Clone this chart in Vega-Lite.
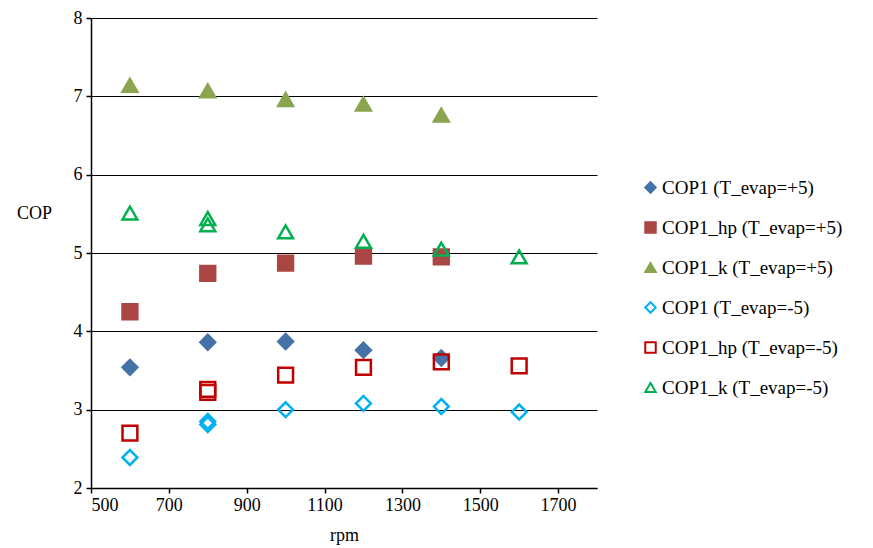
{
  "$schema": "https://vega.github.io/schema/vega-lite/v6.json",
  "width": 506,
  "height": 470,
  "autosize": {"type": "none"},
  "padding": {"left": 91, "top": 18, "right": 276, "bottom": 60},
  "background": "white",
  "config": {
    "view": {"stroke": null}
  },
  "data": {
    "values": [
      {"rpm": 600, "cop": 3.54, "series": "COP1 (T_evap=+5)"},
      {"rpm": 800, "cop": 3.86, "series": "COP1 (T_evap=+5)"},
      {"rpm": 1000, "cop": 3.87, "series": "COP1 (T_evap=+5)"},
      {"rpm": 1200, "cop": 3.76, "series": "COP1 (T_evap=+5)"},
      {"rpm": 1400, "cop": 3.66, "series": "COP1 (T_evap=+5)"},
      {"rpm": 600, "cop": 4.25, "series": "COP1_hp (T_evap=+5)"},
      {"rpm": 800, "cop": 4.74, "series": "COP1_hp (T_evap=+5)"},
      {"rpm": 1000, "cop": 4.87, "series": "COP1_hp (T_evap=+5)"},
      {"rpm": 1200, "cop": 4.96, "series": "COP1_hp (T_evap=+5)"},
      {"rpm": 1400, "cop": 4.95, "series": "COP1_hp (T_evap=+5)"},
      {"rpm": 600, "cop": 7.14, "series": "COP1_k (T_evap=+5)"},
      {"rpm": 800, "cop": 7.07, "series": "COP1_k (T_evap=+5)"},
      {"rpm": 1000, "cop": 6.96, "series": "COP1_k (T_evap=+5)"},
      {"rpm": 1200, "cop": 6.9, "series": "COP1_k (T_evap=+5)"},
      {"rpm": 1400, "cop": 6.76, "series": "COP1_k (T_evap=+5)"},
      {"rpm": 600, "cop": 2.39, "series": "COP1 (T_evap=-5)"},
      {"rpm": 800, "cop": 2.85, "series": "COP1 (T_evap=-5)"},
      {"rpm": 800, "cop": 2.81, "series": "COP1 (T_evap=-5)"},
      {"rpm": 1000, "cop": 3.0, "series": "COP1 (T_evap=-5)"},
      {"rpm": 1200, "cop": 3.08, "series": "COP1 (T_evap=-5)"},
      {"rpm": 1400, "cop": 3.04, "series": "COP1 (T_evap=-5)"},
      {"rpm": 1600, "cop": 2.97, "series": "COP1 (T_evap=-5)"},
      {"rpm": 600, "cop": 2.7, "series": "COP1_hp (T_evap=-5)"},
      {"rpm": 800, "cop": 3.26, "series": "COP1_hp (T_evap=-5)"},
      {"rpm": 800, "cop": 3.22, "series": "COP1_hp (T_evap=-5)"},
      {"rpm": 1000, "cop": 3.44, "series": "COP1_hp (T_evap=-5)"},
      {"rpm": 1200, "cop": 3.54, "series": "COP1_hp (T_evap=-5)"},
      {"rpm": 1400, "cop": 3.61, "series": "COP1_hp (T_evap=-5)"},
      {"rpm": 1600, "cop": 3.56, "series": "COP1_hp (T_evap=-5)"},
      {"rpm": 600, "cop": 5.51, "series": "COP1_k (T_evap=-5)"},
      {"rpm": 800, "cop": 5.44, "series": "COP1_k (T_evap=-5)"},
      {"rpm": 800, "cop": 5.36, "series": "COP1_k (T_evap=-5)"},
      {"rpm": 1000, "cop": 5.27, "series": "COP1_k (T_evap=-5)"},
      {"rpm": 1200, "cop": 5.15, "series": "COP1_k (T_evap=-5)"},
      {"rpm": 1400, "cop": 5.05, "series": "COP1_k (T_evap=-5)"},
      {"rpm": 1600, "cop": 4.95, "series": "COP1_k (T_evap=-5)"}
    ]
  },
  "mark": {"type": "point", "size": 220, "strokeWidth": 2.5, "opacity": 1},
  "encoding": {
    "x": {
      "field": "rpm", "type": "quantitative",
      "scale": {"domain": [500, 1800], "nice": false, "zero": false},
      "axis": {
        "values": [500, 700, 900, 1100, 1300, 1500, 1700], "format": "d",
        "grid": false, "title": "rpm", "titleFont": "serif",
        "titleFontSize": 18, "titleFontWeight": "normal", "titleColor": "#000",
        "titlePadding": 12, "labelFont": "serif",
        "labelFontSize": 18, "labelColor": "#000", "labelPadding": 3,
        "domainColor": "#000", "domainWidth": 1.5, "tickColor": "#000", "tickSize": 5, "tickWidth": 1.5
      }
    },
    "y": {
      "field": "cop", "type": "quantitative",
      "scale": {"domain": [2, 8], "nice": false, "zero": false},
      "axis": {
        "values": [2, 3, 4, 5, 6, 7, 8],
        "grid": true, "gridColor": "#000", "gridWidth": 1,
        "title": "COP", "titleFont": "serif", "titleAngle": 0, "titleX": -57, "titleY": 195,
        "titleAlign": "center", "titleBaseline": "middle",
        "titleFontSize": 18, "titleFontWeight": "normal", "titleColor": "#000",
        "labelFont": "serif", "labelFontSize": 18, "labelColor": "#000", "labelPadding": 4,
        "domainColor": "#000", "domainWidth": 1.5, "tickColor": "#000", "tickSize": 5, "tickWidth": 1.5
      }
    },
    "shape": {
      "field": "series", "type": "nominal",
      "scale": {
        "domain": ["COP1 (T_evap=+5)", "COP1_hp (T_evap=+5)", "COP1_k (T_evap=+5)", "COP1 (T_evap=-5)", "COP1_hp (T_evap=-5)", "COP1_k (T_evap=-5)"],
        "range": ["diamond", "square", "triangle-up", "diamond", "square", "triangle-up"]
      },
      "legend": {
        "title": null, "orient": "none", "legendX": 550, "legendY": 160,
        "labelFont": "serif", "labelFontSize": 19, "labelColor": "#000",
        "symbolSize": 110, "symbolStrokeWidth": 2, "rowPadding": 20, "labelOffset": 2, "labelLimit": 300
      }
    },
    "fill": {
      "field": "series", "type": "nominal",
      "scale": {
        "domain": ["COP1 (T_evap=+5)", "COP1_hp (T_evap=+5)", "COP1_k (T_evap=+5)", "COP1 (T_evap=-5)", "COP1_hp (T_evap=-5)", "COP1_k (T_evap=-5)"],
        "range": ["#4572A7", "#AA4643", "#89A54E", "transparent", "transparent", "transparent"]
      },
      "legend": {
        "title": null, "orient": "none", "legendX": 550, "legendY": 160,
        "labelFont": "serif", "labelFontSize": 19, "labelColor": "#000",
        "symbolSize": 110, "symbolStrokeWidth": 2, "rowPadding": 20, "labelOffset": 2, "labelLimit": 300
      }
    },
    "stroke": {
      "field": "series", "type": "nominal",
      "scale": {
        "domain": ["COP1 (T_evap=+5)", "COP1_hp (T_evap=+5)", "COP1_k (T_evap=+5)", "COP1 (T_evap=-5)", "COP1_hp (T_evap=-5)", "COP1_k (T_evap=-5)"],
        "range": ["#4572A7", "#AA4643", "#89A54E", "#00B0F0", "#C00000", "#00B050"]
      },
      "legend": {
        "title": null, "orient": "none", "legendX": 550, "legendY": 160,
        "labelFont": "serif", "labelFontSize": 19, "labelColor": "#000",
        "symbolSize": 110, "symbolStrokeWidth": 2, "rowPadding": 20, "labelOffset": 2, "labelLimit": 300
      }
    }
  }
}
